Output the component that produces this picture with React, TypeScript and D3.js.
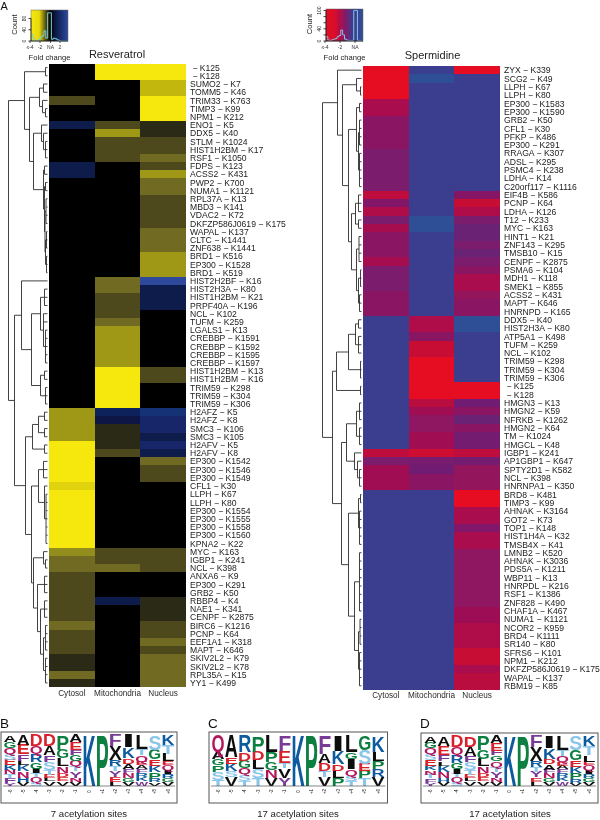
import React from "react";
import * as d3 from "d3";

const FONT = "'Liberation Sans', Arial, sans-serif";
const COLUMNS = ["Cytosol", "Mitochondria", "Nucleus"];

// Resveratrol heat map, top to bottom
const resLabels = [
  " - K125", " - K128", "SUMO2 - K7", "TOMM5 - K46", "TRIM33 - K763", "TIMP3 - K99", "NPM1 - K212", "ENO1 - K5",
  "DDX5 - K40", "STLM - K1024", "HIST1H2BM - K17", "RSF1 - K1050", "FDPS - K123", "ACSS2 - K431", "PWP2 - K700",
  "NUMA1 - K1121", "RPL37A - K13", "MBD3 - K141", "VDAC2 - K72", "DKFZP586J0619 - K175", "WAPAL - K137",
  "CLTC - K1441", "ZNF638 - K1441", "BRD1 - K516", "EP300 - K1528", "BRD1 - K519", "HIST2H2BF - K16",
  "HIST2H3A - K80", "HIST1H2BM - K21", "PRPF40A - K196", "NCL - K102", "TUFM - K259", "LGALS1 - K13",
  "CREBBP - K1591", "CREBBP - K1592", "CREBBP - K1595", "CREBBP - K1597", "HIST1H2BM - K13", "HIST1H2BM - K16",
  "TRIM59 - K298", "TRIM59 - K304", "TRIM59 - K306", "H2AFZ - K5", "H2AFZ - K8", "SMC3 - K106", "SMC3 - K105",
  "H2AFV - K5", "H2AFV - K8", "EP300 - K1542", "EP300 - K1546", "EP300 - K1549", "CFL1 - K30", "LLPH - K67",
  "LLPH - K80", "EP300 - K1554", "EP300 - K1555", "EP300 - K1558", "EP300 - K1560", "KPNA2 - K22", "MYC - K163",
  "IGBP1 - K241", "NCL - K398", "ANXA6 - K9", "EP300 - K291", "GRB2 - K50", "RBBP4 - K4", "NAE1 - K341",
  "CENPF - K2875", "BIRC6 - K1216", "PCNP - K64", "EEF1A1 - K318", "MAPT - K646", "SKIV2L2 - K79",
  "SKIV2L2 - K78", "RPL35A - K15", "YY1 - K499",
];
const resCytosol = [
  0, 0, 0, 0, -1.3, 0, 0, 1, 0, 0, 0, 0, 1, 1, 0, 0, 0, 0, 0, 0, 0, 0, 0, 0, 0, 0, 0, 0, 0, 0, 0, 0, 0, 0, 0, 0, 0, 0,
  0, 0, 0, 0, -2.6, -2.6, -2.6, -2.6, -4, -4, -4, -4, -4, -3.6, -4, -4, -4, -4, -4, -4, -4, -2.4, -1.8, -1.8, -1.3,
  -1.3, -1.3, -1.3, -1.3, -1.3, -1.8, -1.3, -1.3, -1.3, -0.7, -0.7, -1.8, -0.7,
];
const resMito = [
  -4, -4, 0, 0, 0, 0, 0, -1.3, -2.6, -1.3, -1.3, -1.3, 0, 0, 0, 0, 0, 0, 0, 0, 0, 0, 0, 0, 0, 0, -1.8, -1.8, -1.3, -1.3,
  -1.3, -1.8, -2.6, -2.6, -2.6, -2.6, -2.6, -4, -4, -4, -4, -4, 1.2, 0.9, -0.7, -0.7, -0.7, -1.3, 0, 0, 0, 0, 0, 0, 0,
  0, 0, 0, 0, -1.3, -1.3, -1.8, 0, 0, 0, 1, 0, 0, 0, 0, 0, 0, 0, 0, 0, 0,
];
const resNucleus = [
  -4, -4, -3.2, -3.2, -4, -4, -4, -0.7, -0.7, -1.3, -1.3, -1.8, -1.3, -2.6, -1.8, -1.8, -1.3, -1.3, -1.3, -1.3, -1.8,
  -1.8, -1.8, -2.6, -2.6, -2.6, 2, 1, 1, 1, 0, 0, 0, 0, 0, 0, 0, -1.3, -1.3, 0, 0, 0, 1.6, 1.4, 1.4, 1, 1.4, 1, -1.8,
  -1.3, -1.3, 0, 0, 0, 0, 0, 0, 0, 0, -1.3, -1.3, -1.3, 0, 0, 0, -0.7, -0.7, -0.7, -1.3, -1.3, -1.8, -1.3, -1.8, -1.8,
  -1.8, -1.8,
];

// Spermidine heat map, top to bottom
const speLabels = [
  "ZYX - K339", "SCG2 - K49", "LLPH - K67", "LLPH - K80", "EP300 - K1583", "EP300 - K1590", "GRB2 - K50", "CFL1 - K30",
  "PFKP - K486", "EP300 - K291", "RRAGA - K307", "ADSL - K295", "PSMC4 - K238", "LDHA - K14", "C20orf117 - K1116",
  "EIF4B - K586", "PCNP - K64", "LDHA - K126", "T12 - K233", "MYC - K163", "HINT1 - K21", "ZNF143 - K295",
  "TMSB10 - K15", "CENPF - K2875", "PSMA6 - K104", "MDH1 - K118", "SMEK1 - K855", "ACSS2 - K431", "MAPT - K646",
  "HNRNPD - K165", "DDX5 - K40", "HIST2H3A - K80", "ATP5A1 - K498", "TUFM - K259", "NCL - K102", "TRIM59 - K298",
  "TRIM59 - K304", "TRIM59 - K306", " - K125", " - K128", "HMGN3 - K13", "HMGN2 - K59", "NFRKB - K1262", "HMGN2 - K64",
  "TM - K1024", "HMGCL - K48", "IGBP1 - K241", "AP1GBP1 - K647", "SPTY2D1 - K582", "NCL - K398", "HNRNPA1 - K350",
  "BRD8 - K481", "TIMP3 - K99", "AHNAK - K3164", "GOT2 - K73", "TOP1 - K148", "HIST1H4A - K32", "TMSB4X - K41",
  "LMNB2 - K520", "AHNAK - K3036", "PDS5A - K1211", "WBP11 - K13", "HNRPDL - K216", "RSF1 - K1386", "ZNF828 - K490",
  "CHAF1A - K467", "NUMA1 - K1121", "NCOR2 - K959", "BRD4 - K1111", "SR140 - K80", "SFRS6 - K101", "NPM1 - K212",
  "DKFZP586J0619 - K175", "WAPAL - K137", "RBM19 - K85",
];
const speCytosol = [
  -4, -4, -4, -4, -2.8, -2.8, -2.1, -2.1, -2.1, -2.1, -1.7, -1.7, -1.7, -1.7, -1.7, -3.2, -1.9, -2.9, -1.7, -2.7, -2.1,
  -2.1, -2.1, -2.7, -1.7, -1.7, -1.7, -2.1, -2.1, -2.1, 0, 0, 0, 0, 0, 0, 0, 0, 0, 0, 0, 0, 0, 0, 0, 0, -3.2, -1.7,
  -2.6, -2.6, -2.6, 0, 0, 0, 0, 0, 0, 0, 0, 0, 0, 0, 0, 0, 0, 0, 0, 0, 0, 0, 0, 0, 0, 0, 0,
];
const speMito = [
  0, 0.8, 0, 0, 0, 0, 0, 0, 0, 0, 0, 0, 0, 0, 0, 0, 0, 0, 0.8, 0.8, 0, 0, 0, 0, 0, 0, 0, 0, 0, 0, -2.9, -2.9, -2.1, -3.4,
  -3.4, -4, -4, -4, -4, -4, -3.1, -2.6, -2.2, -2.2, -2.6, -2.6, -3.5, -1.6, -1.4, -2.1, -2.1, 0, 0, 0, 0, 0, 0, 0, 0,
  0, 0, 0, 0, 0, 0, 0, 0, 0, 0, 0, 0, 0, 0, 0, 0,
];
const speNucleus = [
  -4, 0, 0, 0, 0, 0, 0, 0, 0, 0, 0, 0, 0, 0, 0, -2, -3.4, -2.9, -1.7, -1.3, -1.3, -1.7, -1.3, -1.7, -2.1, -2.8, -2.8,
  -2.3, -2.1, -2.1, 0.8, 0.8, 0, 0, 0, 0, 0, 0, -4, -4, -1.4, -2.1, -1.3, -2.1, -1.5, -1.5, -3.2, -1.5, -2.3, -2.3,
  -2.3, -4, -4, -2.8, -2.8, -1.9, -2.8, -2.8, -2.2, -2.2, -2.2, -2.2, -2.2, -2.2, -2.2, -2.5, -2.5, -2.9, -2.9, -2.9,
  -3.4, -3.4, -2.8, -3.1, -3.1,
];

// dendrograms: [merge height, ...children], a plain number is that many leaf rows
type Tree = number | Tree[];
const resTree: Tree = [39,
  [23, [2, 2], [18,
    [8, [4, 2], [5, 1, [2, 2]]],
    [14, [6, 1, [4, 1, [2, 3]]], [4, [3, 2], [3, [2, 2], [2.5, [1.5, 4], [2, [1, 3], [1, 3]]]]]],
  ]],
  [33,
    [26, 1, [16, [7, [3, 3], [4, 1, 1, [2, 5]]], [7, [3, 2], [2, 3]]]],
    [22,
      [15, [9, [3, 2], [3, 2]], [3, 2]],
      [16, [9, [4, 3], [3, 1, [1.5, 7]]], [14, [4, 1, [2, 2]], [10, [3, 3], [7, [3, 3], [4, [2, 4], [2, 4]]]]]],
    ],
  ],
];
const speTree: Tree = [39,
  [24, 1, [19, [5, 1, [1, 2]], [13,
    [5, [2, 2], [3, [2, 4], [2, 5]]],
    [10, [6, [3, 3], [3, 2]], [5, [2.5, 4], [3, [1, 3], [2, 3]]]],
  ]]],
  [29,
    [25, [13, [6, [3, 2], [3, 3]], [1, 3]], [1, 2]],
    [20,
      [15, [5, [2, 3], [2, 3]], [7, 1, [4, 1, [2, 3]]]],
      [13, [3, [1, 2], [2, 5]], [7, [2, 8], [3, [1.5, 4], [2, 5]]]],
    ],
  ],
];

// colour key histograms
const resHist = [24, 8, 2, 2, 6, 14, 18, 36, 10, 100, 100, 6, 10, 8, 4, 2, 0, 0, 0, 0];
const speHist = [14, 3, 2, 4, 6, 8, 14, 18, 36, 20, 6, 3, 2, 1, 2, 100, 100, 2, 1, 0];

// sequence logos: stacks top to bottom, letter and its share of the column
type Stack = [string, number][];
const logoPositions = ["-6", "-5", "-4", "-3", "-2", "-1", "0", "+1", "+2", "+3", "+4", "+5", "+6"];
const logoSeven: Stack[] = [
  [["A", 9], ["G", 8], ["Q", 8], ["S", 8], ["E", 8], ["K", 6], ["N", 6], ["T", 5], ["F", 6], ["Y", 4]],
  [["A", 11], ["E", 11], ["F", 7], ["L", 5], ["K", 7], ["N", 7], ["H", 5], ["V", 4]],
  [["D", 14], ["Q", 10], ["R", 10], ["G", 8], ["I", 6], ["T", 4], ["Q", 7], ["S", 4]],
  [["D", 13], ["A", 11], ["F", 8], ["S", 9], ["T", 6], ["E", 4], ["L", 4], ["V", 5]],
  [["P", 17], ["G", 10], ["L", 9], ["N", 8], ["D", 5], ["E", 5], ["V", 5]],
  [["A", 9], ["E", 9], ["F", 6], ["G", 7], ["Q", 7], ["T", 6], ["Y", 8], ["N", 5], ["V", 4]],
  [["K", 100]],
  [["P", 100]],
  [["F", 15], ["X", 19], ["R", 8], ["T", 7], ["Y", 8], ["E", 6], ["L", 5]],
  [["I", 16], ["K", 14], ["D", 7], ["A", 7], ["F", 5], ["N", 6], ["G", 5], ["V", 5]],
  [["L", 17], ["T", 7], ["Q", 8], ["E", 4], ["A", 4], ["F", 5], ["R", 5], ["K", 5], ["W", 5]],
  [["S", 19], ["G", 13], ["E", 9], ["K", 8], ["P", 8], ["R", 5], ["V", 4]],
  [["K", 13], ["T", 11], ["L", 9], ["E", 5], ["Q", 6], ["I", 5], ["R", 5], ["G", 5], ["V", 5]],
];
const logoSeventeen: Stack[] = [
  [["Q", 19], ["A", 9], ["G", 7], ["P", 8], ["S", 9], ["T", 7]],
  [["A", 26], ["E", 8], ["K", 9], ["S", 7], ["V", 10]],
  [["R", 21], ["D", 10], ["G", 9], ["Q", 8], ["S", 8], ["T", 6]],
  [["P", 17], ["D", 9], ["L", 10], ["S", 9], ["T", 8]],
  [["L", 21], ["P", 14], ["G", 10], ["N", 10], ["V", 10]],
  [["F", 18], ["E", 14], ["T", 6], ["V", 11], ["Y", 9]],
  [["K", 100]],
  [["P", 100]],
  [["F", 22], ["A", 11], ["D", 9], ["T", 7], ["V", 10]],
  [["I", 20], ["K", 17], ["D", 8], ["L", 10], ["P", 9]],
  [["L", 23], ["G", 9], ["I", 14], ["Q", 9], ["S", 7], ["T", 6]],
  [["G", 16], ["S", 16], ["E", 9], ["P", 8], ["T", 8]],
  [["K", 18], ["L", 10], ["P", 9], ["R", 9], ["V", 10]],
];

const letterColor: Record<string, string> = {
  A: "#111", V: "#111", L: "#111", I: "#111", X: "#111", M: "#111",
  K: "#0b5a9e", R: "#0b5a9e", H: "#0b5a9e",
  P: "#0a7f3f", G: "#0a7f3f",
  D: "#d8202c", E: "#d8202c",
  F: "#7a3b96", Y: "#7a3b96", W: "#7a3b96",
  Q: "#b3185c", N: "#b3185c",
  S: "#8cc5ea", T: "#8cc5ea",
};

const resColor = d3.scaleLinear<string>()
  .domain([-4, -3.6, -3.2, -2.6, -1.8, -1.3, -0.7, 0, 1, 1.5, 2])
  .range(["#f6e70a", "#e0d30c", "#c2b70e", "#9e9818", "#6f6a20", "#4d491c", "#2c2a18", "#000000", "#0c1b4c", "#13296e", "#2f4a9c"]);

const speColor = d3.scaleLinear<string>()
  .domain([-4, -3.4, -2.8, -2.1, -1.4, 0, 0.8])
  .range(["#e60a20", "#c80a35", "#aa0a4d", "#8a1663", "#6f1f72", "#3a3d8e", "#2f5096"]);

function Heatmap({ x, y, width, height, labels, cols, color }: any) {
  const xScale = d3.scaleBand().domain(COLUMNS).range([x, x + width]);
  const yScale = d3.scaleBand().domain(d3.range(labels.length).map(String)).range([y, y + height]);
  return (
    <g>
      {cols.map((col: number[], c: number) =>
        col.map((v, r) => (
          <rect key={`${c}-${r}`} x={xScale(COLUMNS[c])} y={yScale(String(r))} width={xScale.bandwidth()}
            height={yScale.bandwidth()} fill={color(v)} shapeRendering="crispEdges" />
        ))
      )}
      {labels.map((s: string, r: number) => (
        <text key={r} x={x + width + 4} y={yScale(String(r))! + yScale.bandwidth() / 2 + 3.1} fontSize={8.6}
          fill="#1c1c1c" xmlSpace="preserve">{s.replace(" - ", " \u2212 ")}</text>
      ))}
    </g>
  );
}

function ColumnLabels({ x, y, width }: any) {
  const xScale = d3.scaleBand().domain(COLUMNS).range([x, x + width]);
  return (
    <g>
      {COLUMNS.map((c) => (
        <text key={c} x={xScale(c)! + xScale.bandwidth() / 2} y={y} fontSize={8.2} fill="#2a2a2a" textAnchor="middle">{c}</text>
      ))}
    </g>
  );
}

function Dendrogram({ tree, right, top, height, count }: any) {
  const x = d3.scaleLinear().domain([0, 39]).range([right, right - 39]);
  const y = d3.scaleBand().domain(d3.range(count).map(String)).range([top, top + height]);
  const toNode = (t: Tree): any => {
    if (typeof t === "number") return { h: 0, count: t };
    return { h: t[0], children: (t.slice(1) as Tree[]).flatMap((c) =>
      typeof c === "number" ? d3.range(c).map(() => ({ h: 0 })) : [toNode(c)]) };
  };
  const root = d3.hierarchy(toNode(tree));
  let row = 0;
  root.eachAfter((n: any) => {
    n.rowY = n.children
      ? (n.children[0].rowY + n.children[n.children.length - 1].rowY) / 2
      : y(String(row++))! + y.bandwidth() / 2;
  });
  const path = d3.path();
  root.each((n: any) => {
    if (!n.children) return;
    const px = x(n.data.h);
    path.moveTo(px, n.children[0].rowY);
    path.lineTo(px, n.children[n.children.length - 1].rowY);
    n.children.forEach((c: any) => {
      path.moveTo(px, c.rowY);
      path.lineTo(x(c.data.h), c.rowY);
    });
  });
  return <path d={path.toString()} fill="none" stroke="#2e2e2e" strokeWidth={0.9} />;
}

function ColorKey({ id, x, top, width, height, stops, hist, lineColor, yTicks, yMinor, yMax, xLabels }: any) {
  const bottom = top + height;
  const xBin = d3.scaleLinear().domain([0, hist.length]).range([x, x + width]);
  const yCount = d3.scaleLinear().domain([0, yMax]).range([bottom, top]);
  const line = d3.line<number>().x((_, i) => xBin(i)).y((d) => yCount(d)).curve(d3.curveStepAfter);
  const tickLen = 2.5;
  return (
    <g>
      <defs>
        <linearGradient id={id}>
          {stops.map((s: [number, string]) => <stop key={s[0]} offset={s[0]} stopColor={s[1]} />)}
        </linearGradient>
      </defs>
      <rect x={x} y={top} width={width} height={height} fill={`url(#${id})`} stroke="#666" strokeWidth={0.5} />
      <path d={line([...hist, hist[hist.length - 1]])!} fill="none" stroke={lineColor} strokeWidth={1} />
      <path d={`M${x},${bottom}V${yCount(yMinor[yMinor.length - 1])}`} stroke="#111" strokeWidth={0.8} />
      {yMinor.map((t: number) => (
        <line key={t} x1={x - tickLen} x2={x} y1={yCount(t)} y2={yCount(t)} stroke="#111" strokeWidth={0.8} />
      ))}
      {yTicks.map((t: number) => (
        <text key={t} transform={`translate(${x - 5},${yCount(t)}) rotate(-90)`} fontSize={5} textAnchor="middle" fill="#222">{t}</text>
      ))}
      <path d={`M${x},${bottom}H${x + width}`} stroke="#111" strokeWidth={0.8} />
      {xLabels.map((l: [string, number]) => (
        <g key={l[0]}>
          <line x1={l[1]} x2={l[1]} y1={bottom} y2={bottom + 2} stroke="#111" strokeWidth={0.7} />
          <text x={l[1]} y={bottom + 8} fontSize={5} textAnchor="middle" fill="#333">{l[0]}</text>
        </g>
      ))}
      <text transform={`translate(${x - 14},${top + height / 2 - 1}) rotate(-90)`} fontSize={7.6} textAnchor="middle" fill="#222">Count</text>
      <text x={x + width / 2} y={bottom + 19} fontSize={7.6} textAnchor="middle" fill="#222">Fold change</text>
    </g>
  );
}

function Logo({ x, y, width, height, first, last, axisY, top, stacks, caption, captionX }: any) {
  const xPos = d3.scalePoint().domain(logoPositions).range([first, last]);
  const step = xPos.step();
  const glyphW = step * 0.98;
  return (
    <g>
      <rect x={x} y={y} width={width} height={height} fill="#fff" stroke="#555" strokeWidth={1} />
      {stacks.map((stack: Stack, i: number) => {
        const pos = logoPositions[i];
        const total = d3.sum(stack, (d) => d[1]);
        const yH = d3.scaleLinear().domain([0, total]).range([axisY - 0.5, top]);
        let acc = 0;
        return [...stack].reverse().map(([letter, v], j) => {
          const base = yH(acc);
          acc += v;
          const h = base - yH(acc);
          return (
            <text key={`${i}-${j}`} x={xPos(pos)! - glyphW / 2} y={base} fontSize={h / 0.7} fontWeight="bold"
              fill={letterColor[letter]} textLength={glyphW} lengthAdjust="spacingAndGlyphs">{letter}</text>
          );
        });
      })}
      <line x1={x + 2} x2={x + width - 2} y1={axisY} y2={axisY} stroke="#333" strokeWidth={0.6} />
      {logoPositions.map((p) => (
        <text key={p} transform={`translate(${xPos(p)! + 1.5},${axisY + 5.5}) rotate(-90)`} fontSize={4.5} textAnchor="middle" fill="#111">{p}</text>
      ))}
      <text x={captionX} y={y + height + 14} fontSize={9.6} textAnchor="middle" fill="#222">{caption}</text>
    </g>
  );
}

export default function App() {
  return (
    <svg width={600} height={820} viewBox="0 0 600 820" fontFamily={FONT}
      style={{ position: "absolute", left: 0, top: 0, background: "#fff" }}>
      <defs>
        {/* the source is a soft, low resolution scan */}
        <filter id="soft" x="0" y="0" width="100%" height="100%">
          <feGaussianBlur stdDeviation={0.4} />
        </filter>
      </defs>
      <g filter="url(#soft)">
        <rect x={0} y={0} width={600} height={820} fill="#fff" />
        <text x={0.5} y={10} fontSize={11} fill="#111">A</text>
        <ColorKey id="resKey" x={31} top={10} width={37} height={31}
          stops={[[0, "#f6e70a"], [0.22, "#e8da0a"], [0.45, "#2a2812"], [0.52, "#000"], [0.68, "#0c1b4c"], [1, "#2f4a9c"]]}
          hist={resHist} lineColor="#7fd0d8" yTicks={[0, 40, 80]} yMinor={[0, 40, 80]} yMax={110}
          xLabels={[["\u2264-4", 30], ["-2", 40], ["NA", 50.5], ["2", 60]]} />
        <ColorKey id="speKey" x={326} top={9} width={37} height={32}
          stops={[[0, "#e60a20"], [0.25, "#d80a2c"], [0.5, "#8a1663"], [0.72, "#3a3d8e"], [1, "#2f5096"]]}
          hist={speHist} lineColor="#8fbbe8" yTicks={[0, 40, 100]} yMinor={[0, 20, 40, 60, 80, 100]} yMax={105}
          xLabels={[["\u2264-4", 325], ["-2", 340], ["NA", 355]]} />

        <text x={117} y={58} fontSize={11} textAnchor="middle" fill="#222">Resveratrol</text>
        <text x={432.5} y={59} fontSize={11} textAnchor="middle" fill="#222">Spermidine</text>

        <Dendrogram tree={resTree} right={47.5} top={63.5} height={623.5} count={resLabels.length} />
        <Heatmap x={49} y={63.5} width={137} height={623.5} labels={resLabels}
          cols={[resCytosol, resMito, resNucleus]} color={resColor} />
        <ColumnLabels x={49} y={696} width={137} />

        <Dendrogram tree={speTree} right={361.5} top={66} height={624} count={speLabels.length} />
        <Heatmap x={363} y={66} width={137} height={624} labels={speLabels}
          cols={[speCytosol, speMito, speNucleus]} color={speColor} />
        <ColumnLabels x={363} y={698} width={137} />

        <text x={0} y={728} fontSize={13.5} fill="#111">B</text>
        <text x={208} y={728} fontSize={13.5} fill="#111">C</text>
        <text x={420} y={728} fontSize={13.5} fill="#111">D</text>
        <Logo x={1} y={732} width={176} height={71} first={10} last={168} axisY={786} top={735}
          stacks={logoSeven} caption="7 acetylation sites" captionX={89} />
        <Logo x={209} y={732} width={178.5} height={71} first={218} last={378} axisY={786} top={735.5}
          stacks={logoSeventeen} caption="17 acetylation sites" captionX={298} />
        <Logo x={421} y={733} width={177} height={70} first={430.5} last={589} axisY={786} top={736}
          stacks={logoSeven} caption="17 acetylation sites" captionX={510} />
      </g>
    </svg>
  );
}
